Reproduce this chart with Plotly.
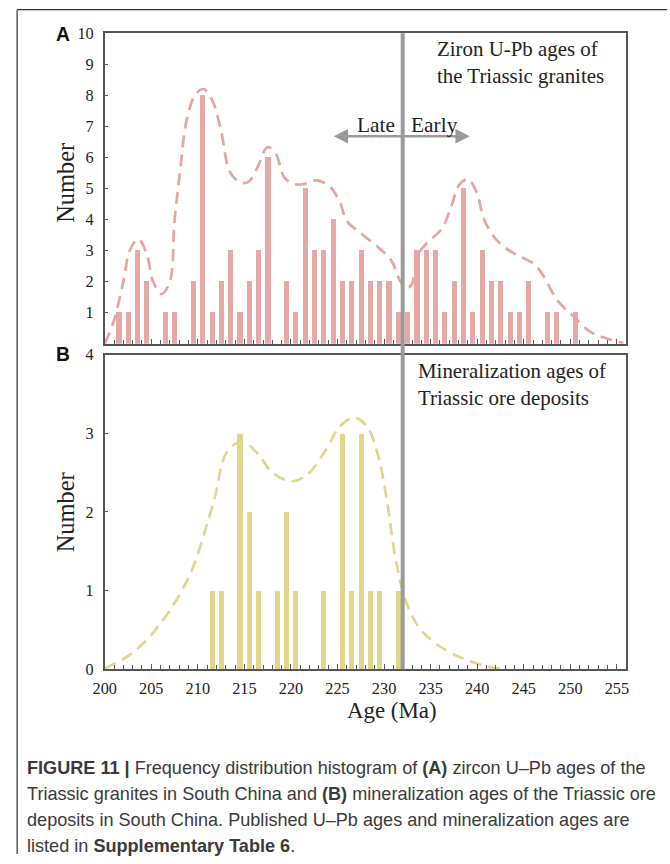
import plotly.graph_objects as go

# ---- data -------------------------------------------------------------
# (A) zircon U-Pb ages of Triassic granites: bin centres (Ma) and counts
granite_age = [201.5, 202.5, 203.5, 204.5, 206.5, 207.5, 209.5, 210.5, 211.5,
               212.5, 213.5, 214.5, 215.5, 216.5, 217.5, 219.5, 220.5, 221.5,
               222.5, 223.5, 224.5, 225.5, 226.5, 227.5, 228.5, 229.5, 230.5,
               231.5, 232.5, 233.5, 234.5, 235.5, 236.5, 237.5, 238.5, 239.5,
               240.5, 241.5, 242.5, 243.5, 244.5, 245.5, 247.5, 248.5, 250.5]
granite_count = [1, 1, 3, 2, 1, 1, 2, 8, 1,
                 2, 3, 1, 2, 3, 6, 2, 1, 5,
                 3, 3, 4, 2, 2, 3, 2, 2, 2,
                 1, 1, 3, 3, 3, 1, 2, 5, 1,
                 3, 2, 2, 1, 1, 2, 1, 1, 1]

# (A) probability-density envelope
granite_curve_x = [200.0, 201.0, 202.0, 202.7, 203.6, 204.5, 205.2, 206.1, 207.0,
                   207.5, 208.1, 208.8, 209.7, 210.6, 211.6, 212.5, 213.4, 214.5,
                   215.4, 216.4, 217.5, 218.4, 219.3, 220.5, 221.5, 222.7, 224.1,
                   225.2, 226.0, 227.6, 229.4, 230.8, 231.7, 232.4, 233.0, 233.7,
                   234.8, 236.2, 237.2, 238.1, 239.0, 239.9, 240.8, 242.2, 244.0,
                   246.1, 247.2, 248.6, 250.4, 252.2, 254.0, 255.7]
granite_curve_y = [0.0, 0.75, 2.0, 3.0, 3.37, 2.9, 2.0, 1.6, 2.0,
                   3.96, 5.56, 7.2, 8.0, 8.2, 7.8, 6.85, 5.56, 5.2,
                   5.2, 5.67, 6.33, 6.1, 5.35, 5.13, 5.15, 5.26, 5.08,
                   4.6, 3.96, 3.53, 3.1, 2.67, 2.03, 1.76, 1.93, 2.9,
                   3.3, 3.7, 4.4, 5.13, 5.3, 4.9, 3.96, 3.3, 2.9,
                   2.57, 2.14, 1.4, 0.86, 0.37, 0.16, 0.02]

# (B) mineralization ages of Triassic ore deposits
ore_age = [211.5, 212.5, 214.5, 215.5, 216.5, 218.5, 219.5, 220.5,
           223.5, 225.5, 226.5, 227.5, 228.5, 229.5, 231.5]
ore_count = [1, 1, 3, 2, 1, 1, 2, 1,
             1, 3, 1, 3, 1, 1, 1]

ore_curve_x = [200.0, 202.4, 204.5, 206.3, 208.1, 209.5, 210.9, 212.0, 212.5,
               213.1, 214.1, 215.2, 216.6, 218.0, 220.2, 221.9, 223.7, 225.2,
               226.8, 228.2, 229.4, 230.3, 231.2, 232.3, 233.7, 235.5, 238.0,
               240.4, 242.6]
ore_curve_y = [0.01, 0.16, 0.37, 0.63, 0.96, 1.3, 1.81, 2.27, 2.57,
               2.76, 2.87, 2.87, 2.72, 2.5, 2.39, 2.49, 2.78, 3.08,
               3.2, 3.08, 2.7, 2.15, 1.43, 0.88, 0.54, 0.33, 0.16,
               0.055, 0.0]

boundary_age = 232          # Late / Early Triassic boundary line
x_ticks = list(range(200, 256, 5))

# ---- layout geometry ------------------------------------------------------
W, H = 670, 864
BODY_MARGIN = 8                      # default page margin around the plot div
SX = 1.018                           # page is shown slightly shrunk to the window
SY = 1.021
SERIF = "Liberation Serif, Times New Roman, serif"
SANS = "Liberation Sans, Arial, sans-serif"
PINK = "#e6a7a7"
PINK_LINE = "#e8a3a3"
KHAKI = "#e0d78a"
AXIS = "#555555"
GREY = "#9a9a9a"
TXT = "#222222"


def px(x):
    """window pixel column -> paper x"""
    return (x * SX - BODY_MARGIN) / W


def py(y):
    """window pixel row -> paper y"""
    return 1 - (y * SY - BODY_MARGIN) / H


def fs(size):
    """font size compensated for the shrink"""
    return round(size * SX, 1)


x_dom = [px(101), px(625)]
a_dom = [py(343), py(32)]
b_dom = [py(669), py(354)]

fig = go.Figure()

fig.add_trace(go.Bar(x=granite_age, y=granite_count, width=0.55,
                     marker=dict(color=PINK, line=dict(width=0)),
                     xaxis="x", yaxis="y", hoverinfo="x+y"))
fig.add_trace(go.Scatter(x=granite_curve_x, y=granite_curve_y, mode="lines",
                         line=dict(color=PINK_LINE, width=2.7, dash="12px,7px",
                                   shape="spline", smoothing=1.0),
                         xaxis="x", yaxis="y", hoverinfo="skip"))

fig.add_trace(go.Bar(x=ore_age, y=ore_count, width=0.55,
                     marker=dict(color=KHAKI, line=dict(width=0)),
                     xaxis="x2", yaxis="y2", hoverinfo="x+y"))
fig.add_trace(go.Scatter(x=ore_curve_x, y=ore_curve_y, mode="lines",
                         line=dict(color=KHAKI, width=2.7, dash="12px,7px",
                                   shape="spline", smoothing=1.0),
                         xaxis="x2", yaxis="y2", hoverinfo="skip"))

common_x = dict(range=[200, 256], domain=x_dom, showline=True, linecolor=AXIS,
                linewidth=1.5, mirror=True, ticks="inside", ticklen=5,
                tickcolor=AXIS, tickvals=x_ticks, showgrid=False, zeroline=False,
                minor=dict(dtick=1, ticks="inside", ticklen=4, tickcolor=AXIS,
                           showgrid=False),
                ticklabelstandoff=3,
                tickfont=dict(family=SERIF, size=fs(16), color=TXT))
common_y = dict(showline=True, linecolor=AXIS, linewidth=1.5, mirror=True,
                ticks="inside", ticklen=4, tickcolor=AXIS, showgrid=False,
                zeroline=False, ticklabelstandoff=6,
                tickfont=dict(family=SERIF, size=fs(16), color=TXT))

fig.update_layout(
    width=W, height=H, margin=dict(l=0, r=0, t=0, b=0),
    paper_bgcolor="white", plot_bgcolor="white", showlegend=False,
    bargap=0,
    xaxis=dict(common_x, anchor="y", showticklabels=False),
    yaxis=dict(common_y, domain=a_dom, range=[0, 10], anchor="x",
               tickvals=list(range(1, 11))),
    xaxis2=dict(common_x, anchor="y2", showticklabels=True),
    yaxis2=dict(common_y, domain=b_dom, range=[0, 4], anchor="x2",
                tickvals=[0, 1, 2, 3, 4]),
)

# boundary line through both panels
fig.add_shape(type="line", xref="x", yref="paper", x0=boundary_age, x1=boundary_age,
              y0=b_dom[0], y1=a_dom[1], line=dict(color=GREY, width=4), layer="above")

# outer frame of the figure (top and left rules)
fig.add_shape(type="line", xref="paper", yref="paper", x0=px(13), x1=1,
              y0=py(8.5), y1=py(8.5), line=dict(color="#333", width=1.2))
fig.add_shape(type="line", xref="paper", yref="paper", x0=px(13), x1=px(13),
              y0=0, y1=py(8.5), line=dict(color="#333", width=1.2))

ann = []
# Late / Early arrows
arrow_y = 6.68
for head, tail in [(224.6, boundary_age), (239.2, boundary_age)]:
    ann.append(dict(x=head, y=arrow_y, ax=tail, ay=arrow_y, xref="x", yref="y",
                    axref="x", ayref="y", showarrow=True, arrowhead=2,
                    arrowsize=1.1, arrowwidth=2.6, arrowcolor=GREY, text=""))
ann.append(dict(x=231.4, y=7.05, xref="x", yref="y", text="Late", showarrow=False,
                xanchor="right", yanchor="middle",
                font=dict(family=SERIF, size=fs(21), color=TXT)))
ann.append(dict(x=232.7, y=7.05, xref="x", yref="y", text="Early", showarrow=False,
                xanchor="left", yanchor="middle",
                font=dict(family=SERIF, size=fs(21), color=TXT)))


def text_at(x, y, txt, size, anchor="left", family=SERIF, color=TXT, angle=0):
    ann.append(dict(x=px(x), y=py(y), xref="paper", yref="paper", text=txt,
                    xanchor=anchor, yanchor="middle", align="left",
                    showarrow=False, textangle=angle,
                    font=dict(family=family, size=fs(size), color=color)))


# panel descriptions
text_at(433, 61, "Ziron U-Pb ages of<br>the Triassic granites", 20.5)
text_at(414, 384, "Mineralization ages of<br>Triassic ore deposits", 20.5)

# axis titles
text_at(62, 182, "Number", 24, anchor="center", angle=-90)
text_at(62, 512, "Number", 24, anchor="center", angle=-90)
text_at(390, 710, "Age (Ma)", 22.5, anchor="center")

# panel letters
text_at(59, 33, "<b>A</b>", 19, anchor="center", family=SANS, color="#111")
text_at(59, 354, "<b>B</b>", 19, anchor="center", family=SANS, color="#111")

# figure caption
caption = [
    "<b>FIGURE 11 |</b> Frequency distribution histogram of <b>(A)</b> zircon U–Pb ages of the",
    "Triassic granites in South China and <b>(B)</b> mineralization ages of the Triassic ore",
    "deposits in South China. Published U–Pb ages and mineralization ages are",
    "listed in <b>Supplementary Table 6</b>.",
]
for i, line in enumerate(caption):
    text_at(21, 768 + 26 * i, line, 17.8, family=SANS, color="#3a3a3a")

fig.update_layout(annotations=ann)
fig.write_html("out.html")
